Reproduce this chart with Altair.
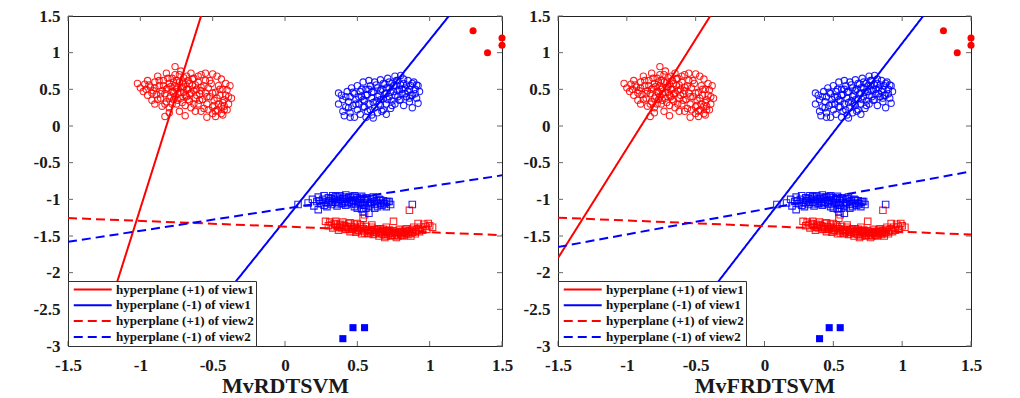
import altair as alt
import pandas as pd

# ---------------- data ----------------
X_TICKS = [-1.5, -1, -0.5, 0, 0.5, 1, 1.5]
Y_TICKS = [-3, -2.5, -2, -1.5, -1, -0.5, 0, 0.5, 1, 1.5]

LINE_NAMES = ["hyperplane (+1) of view1", "hyperplane (-1) of view1",
              "hyperplane (+1) of view2", "hyperplane (-1) of view2"]

# endpoints of each hyperplane (x0, y0, x1, y1) per panel
LINES_LEFT = {
    LINE_NAMES[0]: (-1.30, -3.0, -0.58, 1.5),
    LINE_NAMES[1]: (-0.698, -3.0, 1.133, 1.5),
    LINE_NAMES[2]: (-1.5, -1.255, 1.5, -1.488),
    LINE_NAMES[3]: (-1.5, -1.58, 1.5, -0.673),
}
LINES_RIGHT = {
    LINE_NAMES[0]: (-1.5, -1.80, -0.394, 1.5),
    LINE_NAMES[1]: (-0.697, -3.0, 1.153, 1.5),
    LINE_NAMES[2]: (-1.5, -1.25, 1.5, -1.48),
    LINE_NAMES[3]: (-1.5, -1.65, 1.5, -0.62),
}

RED_CIRCLES = [
    (-1.02, 0.58), (-1.0, 0.52), (-0.98, 0.47), (-0.97, 0.57), (-0.95, 0.62), (-0.95, 0.42),
    (-0.93, 0.53), (-0.92, 0.35), (-0.91, 0.48), (-0.9, 0.6), (-0.9, 0.3), (-0.89, 0.43),
    (-0.88, 0.68), (-0.87, 0.55), (-0.86, 0.38), (-0.85, 0.27), (-0.85, 0.48), (-0.84, 0.62),
    (-0.83, 0.44), (-0.82, 0.72), (-0.82, 0.33), (-0.81, 0.52), (-0.8, 0.58), (-0.8, 0.25),
    (-0.79, 0.41), (-0.78, 0.65), (-0.78, 0.47), (-0.77, 0.36), (-0.76, 0.55), (-0.76, 0.7),
    (-0.75, 0.3), (-0.75, 0.5), (-0.74, 0.44), (-0.73, 0.6), (-0.76, 0.81), (-0.72, 0.38),
    (-0.72, 0.75), (-0.71, 0.52), (-0.7, 0.46), (-0.7, 0.66), (-0.69, 0.28), (-0.69, 0.57),
    (-0.68, 0.4), (-0.67, 0.62), (-0.67, 0.5), (-0.66, 0.34), (-0.65, 0.72), (-0.65, 0.45),
    (-0.64, 0.55), (-0.63, 0.65), (-0.62, 0.38), (-0.62, 0.2), (-0.61, 0.5), (-0.6, 0.6),
    (-0.6, 0.3), (-0.59, 0.44), (-0.58, 0.7), (-0.58, 0.53), (-0.83, 0.13), (-0.8, 0.18),
    (-0.73, 0.2), (-0.69, 0.14), (-0.57, 0.36), (-0.56, 0.24), (-0.55, 0.62), (-0.55, 0.45),
    (-0.54, 0.3), (-0.53, 0.52), (-0.54, 0.12), (-0.52, 0.4), (-0.51, 0.58), (-0.5, 0.26),
    (-0.5, 0.71), (-0.49, 0.35), (-0.48, 0.46), (-0.48, 0.13), (-0.47, 0.22), (-0.46, 0.55),
    (-0.46, 0.3), (-0.45, 0.42), (-0.44, 0.17), (-0.44, 0.64), (-0.43, 0.5), (-0.42, 0.27),
    (-0.42, 0.36), (-0.41, 0.58), (-0.4, 0.49), (-0.4, 0.22), (-0.39, 0.3), (-0.41, 0.42),
    (-0.37, 0.38), (-0.55, 0.72), (-0.47, 0.68), (-0.58, 0.2), (-0.43, 0.15), (-0.5, 0.17),
    (-0.96, 0.5), (-0.94, 0.56), (-0.92, 0.45), (-0.9, 0.52), (-0.88, 0.36), (-0.87, 0.62),
    (-0.86, 0.44), (-0.84, 0.55), (-0.83, 0.3), (-0.82, 0.5), (-0.81, 0.65), (-0.8, 0.38),
    (-0.79, 0.54), (-0.78, 0.3), (-0.77, 0.6), (-0.77, 0.45), (-0.76, 0.4), (-0.75, 0.62),
    (-0.74, 0.52), (-0.74, 0.35), (-0.73, 0.7), (-0.72, 0.46), (-0.71, 0.6), (-0.71, 0.32),
    (-0.7, 0.54), (-0.69, 0.42), (-0.68, 0.68), (-0.68, 0.5), (-0.67, 0.36), (-0.66, 0.58),
    (-0.66, 0.44), (-0.65, 0.25), (-0.64, 0.64), (-0.63, 0.48), (-0.63, 0.3), (-0.62, 0.56),
    (-0.61, 0.42), (-0.6, 0.68), (-0.59, 0.35), (-0.58, 0.48), (-0.56, 0.55), (-0.54, 0.4),
    (-0.53, 0.22), (-0.52, 0.62), (-0.5, 0.45), (-0.49, 0.28), (-0.47, 0.38), (-0.45, 0.5),
    (-0.43, 0.32), (-0.42, 0.22), (-0.39, 0.4), (-0.38, 0.55), (-0.44, 0.27), (-0.48, 0.2),
]

BLUE_CIRCLES = [
    (0.37, 0.45), (0.37, 0.3), (0.39, 0.42), (0.4, 0.2), (0.4, 0.36), (0.41, 0.14),
    (0.42, 0.26), (0.43, 0.47), (0.44, 0.33), (0.45, 0.18), (0.45, 0.4), (0.46, 0.52),
    (0.47, 0.28), (0.48, 0.12), (0.48, 0.44), (0.49, 0.36), (0.5, 0.22), (0.5, 0.55),
    (0.51, 0.3), (0.52, 0.47), (0.52, 0.16), (0.53, 0.4), (0.54, 0.6), (0.54, 0.26),
    (0.55, 0.34), (0.56, 0.5), (0.56, 0.12), (0.57, 0.2), (0.57, 0.43), (0.58, 0.62),
    (0.58, 0.3), (0.59, 0.55), (0.6, 0.38), (0.6, 0.15), (0.61, 0.47), (0.62, 0.25),
    (0.62, 0.6), (0.63, 0.34), (0.64, 0.52), (0.64, 0.18), (0.65, 0.42), (0.66, 0.63),
    (0.66, 0.28), (0.67, 0.5), (0.68, 0.37), (0.68, 0.22), (0.69, 0.57), (0.7, 0.45),
    (0.7, 0.3), (0.71, 0.65), (0.72, 0.4), (0.72, 0.52), (0.73, 0.24), (0.74, 0.58),
    (0.74, 0.34), (0.75, 0.47), (0.76, 0.68), (0.76, 0.3), (0.77, 0.55), (0.78, 0.4),
    (0.78, 0.62), (0.79, 0.5), (0.8, 0.69), (0.8, 0.36), (0.81, 0.44), (0.82, 0.58),
    (0.82, 0.28), (0.83, 0.52), (0.84, 0.4), (0.85, 0.62), (0.85, 0.47), (0.86, 0.33),
    (0.87, 0.55), (0.88, 0.42), (0.88, 0.25), (0.89, 0.6), (0.9, 0.5), (0.91, 0.38),
    (0.92, 0.55), (0.92, 0.31), (0.93, 0.47), (0.61, 0.11), (0.7, 0.16), (0.45, 0.12),
    (0.42, 0.4), (0.44, 0.25), (0.47, 0.46), (0.49, 0.3), (0.51, 0.4), (0.53, 0.5),
    (0.55, 0.26), (0.56, 0.42), (0.58, 0.5), (0.59, 0.22), (0.6, 0.46), (0.61, 0.32),
    (0.63, 0.56), (0.64, 0.4), (0.65, 0.3), (0.66, 0.48), (0.67, 0.2), (0.68, 0.58),
    (0.69, 0.44), (0.7, 0.52), (0.71, 0.36), (0.72, 0.6), (0.73, 0.46), (0.74, 0.28),
    (0.75, 0.55), (0.76, 0.42), (0.77, 0.62), (0.78, 0.48), (0.79, 0.35), (0.8, 0.56),
    (0.81, 0.5), (0.82, 0.64), (0.83, 0.44), (0.84, 0.56), (0.86, 0.5), (0.87, 0.42),
    (0.88, 0.58), (0.9, 0.44), (0.91, 0.56), (0.86, 0.38), (0.66, 0.36), (0.54, 0.36),
]

BLUE_SQUARES = [
    (0.09, -1.07), (0.16, -1.05), (0.19, -1.0), (0.2, -1.09), (0.22, -1.03), (0.23, -0.97),
    (0.23, -1.14), (0.25, -1.06), (0.26, -1.0), (0.27, -0.95), (0.28, -1.04), (0.29, -1.1),
    (0.3, -0.98), (0.31, -1.02), (0.32, -1.07), (0.33, -0.95), (0.34, -1.0), (0.35, -1.04),
    (0.36, -0.97), (0.36, -1.09), (0.37, -1.02), (0.38, -0.95), (0.39, -1.06), (0.4, -0.99),
    (0.41, -1.03), (0.42, -0.94), (0.42, -1.08), (0.43, -1.0), (0.44, -1.04), (0.45, -0.97),
    (0.46, -1.06), (0.47, -1.01), (0.48, -0.95), (0.48, -1.1), (0.49, -1.03), (0.5, -0.98),
    (0.5, -1.12), (0.51, -1.05), (0.52, -1.0), (0.53, -0.96), (0.54, -1.07), (0.54, -1.17),
    (0.55, -1.02), (0.56, -0.98), (0.57, -1.05), (0.58, -1.09), (0.58, -1.19), (0.59, -1.0),
    (0.6, -1.04), (0.61, -0.97), (0.62, -1.07), (0.63, -1.02), (0.64, -1.1), (0.65, -1.0),
    (0.66, -1.05), (0.67, -1.08), (0.68, -1.02), (0.69, -1.06), (0.7, -1.1), (0.71, -1.03),
    (0.72, -1.03), (0.73, -1.07), (0.88, -1.07), (0.53, -1.13),
    (0.24, -1.02), (0.27, -1.08), (0.3, -1.05), (0.32, -0.99), (0.33, -1.04), (0.35, -0.96),
    (0.37, -1.06), (0.38, -1.0), (0.4, -1.05), (0.41, -0.97), (0.43, -1.06), (0.44, -0.98),
    (0.46, -1.02), (0.47, -0.96), (0.49, -1.07), (0.5, -1.01), (0.52, -1.05), (0.53, -0.99),
    (0.55, -1.08), (0.57, -1.0), (0.59, -1.06), (0.6, -0.99), (0.62, -1.03), (0.64, -1.06),
    (0.66, -1.01), (0.68, -1.06), (0.7, -1.04), (0.56, -1.12), (0.62, -1.12),
]

RED_SQUARES = [
    (0.28, -1.3), (0.3, -1.36), (0.31, -1.31), (0.33, -1.39), (0.34, -1.33), (0.35, -1.3),
    (0.36, -1.37), (0.37, -1.42), (0.38, -1.34), (0.39, -1.39), (0.4, -1.31), (0.41, -1.36),
    (0.42, -1.41), (0.43, -1.38), (0.44, -1.33), (0.45, -1.44), (0.46, -1.37), (0.47, -1.4),
    (0.48, -1.34), (0.49, -1.45), (0.5, -1.39), (0.51, -1.42), (0.52, -1.35), (0.53, -1.47),
    (0.54, -1.4), (0.55, -1.43), (0.56, -1.37), (0.57, -1.46), (0.58, -1.41), (0.59, -1.44),
    (0.6, -1.38), (0.61, -1.48), (0.62, -1.42), (0.63, -1.45), (0.64, -1.4), (0.65, -1.5),
    (0.66, -1.44), (0.67, -1.47), (0.68, -1.41), (0.69, -1.52), (0.7, -1.45), (0.71, -1.48),
    (0.72, -1.42), (0.73, -1.5), (0.74, -1.46), (0.75, -1.3), (0.75, -1.43), (0.76, -1.49),
    (0.77, -1.52), (0.78, -1.45), (0.79, -1.41), (0.8, -1.48), (0.81, -1.44), (0.82, -1.5),
    (0.83, -1.46), (0.84, -1.4), (0.85, -1.48), (0.86, -1.43), (0.87, -1.5), (0.88, -1.45),
    (0.89, -1.38), (0.9, -1.47), (0.91, -1.42), (0.92, -1.33), (0.93, -1.44), (0.94, -1.38),
    (0.96, -1.34), (0.98, -1.41), (1.0, -1.36), (1.02, -1.38), (0.86, -1.15), (0.54, -1.26),
    (0.55, -1.21),
    (0.32, -1.35), (0.35, -1.34), (0.38, -1.38), (0.4, -1.35), (0.42, -1.37), (0.44, -1.4),
    (0.46, -1.41), (0.48, -1.38), (0.5, -1.43), (0.52, -1.4), (0.53, -1.37), (0.55, -1.46),
    (0.57, -1.42), (0.58, -1.47), (0.6, -1.42), (0.61, -1.44), (0.62, -1.47), (0.63, -1.41),
    (0.65, -1.46), (0.66, -1.4), (0.67, -1.43), (0.68, -1.48), (0.69, -1.44), (0.7, -1.5),
    (0.71, -1.43), (0.72, -1.46), (0.73, -1.44), (0.74, -1.49), (0.76, -1.45), (0.77, -1.47),
    (0.78, -1.5), (0.79, -1.46), (0.8, -1.44), (0.81, -1.49), (0.82, -1.45), (0.83, -1.42),
    (0.84, -1.47), (0.85, -1.44), (0.87, -1.46), (0.88, -1.41), (0.9, -1.44), (0.92, -1.4),
    (0.95, -1.42), (0.97, -1.37), (0.99, -1.33), (0.45, -1.32), (0.5, -1.33), (0.6, -1.35),
    (0.7, -1.38),
]

RED_FILLED = [(1.3, 1.3), (1.4, 1.0), (1.5, 1.2), (1.5, 1.1)]
BLUE_FILLED = [(0.4, -2.9), (0.47, -2.75), (0.55, -2.75)]

LINE_COLORS = ["#ff0000", "#0000ff", "#ff0000", "#0000ff"]
LINE_DASHES = [[1, 0], [1, 0], [9, 5], [9, 5]]

FONT = "Liberation Serif"
RED = "#ff0000"
BLUE = "#0000ff"


def pts(lst):
    return pd.DataFrame(lst, columns=["x", "y"])


def panel(lines, title, width, height):
    xs = alt.Scale(domain=[-1.5, 1.5], nice=False, zero=False)
    ys = alt.Scale(domain=[-3, 1.5], nice=False, zero=False)
    xaxis = alt.Axis(values=X_TICKS, ticks=False, tickSize=0, domain=False, grid=False,
                     labelExpr="toString(datum.value)", labelFlush=False, labelOverlap=False,
                     labelFont=FONT, labelFontWeight="bold", labelFontSize=17,
                     labelColor="#1a1a1a", labelPadding=11,
                     title=title, titleFont=FONT, titleFontWeight="bold", titleFontSize=22,
                     titleColor="#1a1a1a", titlePadding=2)
    yaxis = alt.Axis(values=Y_TICKS, ticks=False, tickSize=0, domain=False, grid=False,
                     labelExpr="toString(datum.value)", labelFlush=False, labelOverlap=False,
                     labelFont=FONT, labelFontWeight="bold", labelFontSize=17,
                     labelColor="#1a1a1a", labelPadding=8, title=None,
                     minExtent=50, maxExtent=50)
    X = alt.X("x:Q", scale=xs, axis=xaxis)
    Y = alt.Y("y:Q", scale=ys, axis=yaxis)

    rows = []
    for name, (x0, y0, x1, y1) in lines.items():
        rows.append({"name": name, "x": x0, "y": y0})
        rows.append({"name": name, "x": x1, "y": y1})
    ldf = pd.DataFrame(rows)

    def hollow(lst, shape, color, size):
        return alt.Chart(pts(lst)).mark_point(shape=shape, filled=False, color=color,
                                              size=size, strokeWidth=1.1, opacity=0.85).encode(x=X, y=Y)

    hc = hollow(RED_CIRCLES, "circle", RED, 40)
    bc = hollow(BLUE_CIRCLES, "circle", BLUE, 40)
    rs = hollow(RED_SQUARES, "square", RED, 42)
    bs = hollow(BLUE_SQUARES, "square", BLUE, 42)
    rf = alt.Chart(pts(RED_FILLED)).mark_point(shape="circle", filled=True, color=RED,
                                                size=50, opacity=1).encode(x=X, y=Y)
    bf = alt.Chart(pts(BLUE_FILLED)).mark_point(shape="square", filled=True, color=BLUE,
                                                 size=50, opacity=1).encode(x=X, y=Y)

    legend = alt.Legend(title=None, orient="bottom-left", offset=0,
                        strokeColor="#333333", fillColor="white", padding=2,
                        labelFont=FONT, labelFontWeight="bold", labelFontSize=13,
                        labelColor="#111111", labelOffset=33,
                        symbolType="M-0.5,0H6.4", symbolSize=121, symbolStrokeWidth=2,
                        rowPadding=1.8, labelLimit=300)
    ln = alt.Chart(ldf).mark_line(strokeWidth=2, clip=True).encode(
        x=X, y=Y, detail="name:N",
        color=alt.Color("name:N", scale=alt.Scale(domain=LINE_NAMES, range=LINE_COLORS),
                        legend=legend),
        strokeDash=alt.StrokeDash("name:N", scale=alt.Scale(domain=LINE_NAMES, range=LINE_DASHES),
                                  legend=legend),
    )

    xt = pd.DataFrame({"x": X_TICKS})
    yt = pd.DataFrame({"y": Y_TICKS})
    tc = "#666666"
    tb = alt.Chart(xt).mark_rule(color=tc, strokeWidth=1).encode(x=X, y=alt.value(height), y2=alt.value(height - 5))
    tt = alt.Chart(xt).mark_rule(color=tc, strokeWidth=1).encode(x=X, y=alt.value(0), y2=alt.value(5))
    tl = alt.Chart(yt).mark_rule(color=tc, strokeWidth=1).encode(y=Y, x=alt.value(0), x2=alt.value(5))
    tr = alt.Chart(yt).mark_rule(color=tc, strokeWidth=1).encode(y=Y, x=alt.value(width), x2=alt.value(width - 5))

    return alt.layer(tb, tt, tl, tr, hc, bc, rs, bs, rf, bf, ln).properties(width=width, height=height)


left = panel(LINES_LEFT, "MvRDTSVM", 434, 330)
right = panel(LINES_RIGHT, "MvFRDTSVM", 413, 330)

chart = alt.hconcat(left, right, spacing=56, bounds="flush").resolve_scale(
    color="independent", strokeDash="independent"
).resolve_legend(color="independent", strokeDash="independent").properties(
    padding={"left": 9, "top": -2, "right": 5, "bottom": 0}, background="white"
).configure_view(stroke="#222222", strokeWidth=1)

chart.save("out.html", embed_options={"renderer": "svg", "actions": False})
